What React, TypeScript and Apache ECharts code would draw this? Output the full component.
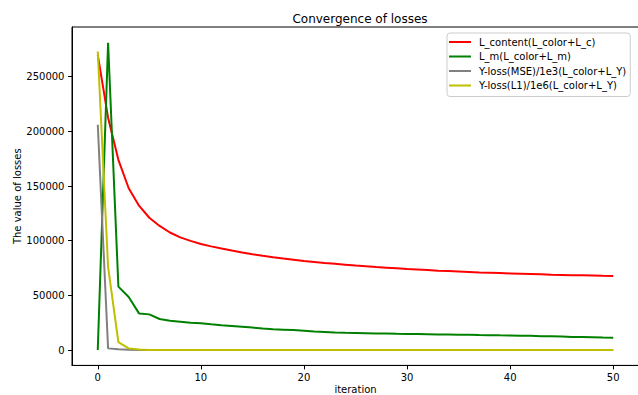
import React, { useEffect, useRef } from "react";
import * as echarts from "echarts";

const iterations: number[] = Array.from({ length: 51 }, (_, i) => i);

const contentLoss: number[] = [
  270000, 212500, 174000, 148000, 132000, 121000, 113500, 107500, 103000, 99800,
  97000, 94800, 92800, 91000, 89300, 87700, 86200, 84900, 83700, 82600,
  81500, 80600, 79700, 78900, 78100, 77300, 76600, 75900, 75300, 74700,
  74100, 73600, 73100, 72600, 72200, 71800, 71400, 71000, 70700, 70400,
  70100, 69800, 69500, 69200, 68900, 68700, 68500, 68300, 68100, 67900,
  67800,
];

const mLoss: number[] = [
  0, 281000, 58000, 48500, 33500, 32600, 28400, 26800, 25900, 25000,
  24400, 23500, 22700, 22000, 21300, 20500, 19600, 19000, 18600, 18200,
  17600, 16900, 16500, 16100, 15800, 15600, 15400, 15200, 15000, 14800,
  14700, 14600, 14500, 14300, 14200, 14000, 13900, 13700, 13600, 13400,
  13300, 13100, 13000, 12700, 12500, 12300, 12000, 11800, 11600, 11400,
  11300,
];

const yMseLoss: number[] = [
  206000, 1500, 600, 250, 120, 60, 30, 20, 10, 10,
  0, 0, 0, 0, 0, 0, 0, 0, 0, 0,
  0, 0, 0, 0, 0, 0, 0, 0, 0, 0,
  0, 0, 0, 0, 0, 0, 0, 0, 0, 0,
  0, 0, 0, 0, 0, 0, 0, 0, 0, 0,
  0,
];

const yL1Loss: number[] = [
  273000, 76000, 7300, 1500, 400, 120, 50, 20, 10, 10,
  0, 0, 0, 0, 0, 0, 0, 0, 0, 0,
  0, 0, 0, 0, 0, 0, 0, 0, 0, 0,
  0, 0, 0, 0, 0, 0, 0, 0, 0, 0,
  0, 0, 0, 0, 0, 0, 0, 0, 0, 0,
  0,
];

const seriesNames: string[] = [
  "L_content(L_color+L_c)",
  "L_m(L_color+L_m)",
  "Y-loss(MSE)/1e3(L_color+L_Y)",
  "Y-loss(L1)/1e6(L_color+L_Y)",
];
const seriesColors: string[] = ["#ff0000", "#008000", "#808080", "#bfbf00"];
const xTicks: number[] = [0, 10, 20, 30, 40, 50];
const yTicks: number[] = [0, 50000, 100000, 150000, 200000, 250000];

const FONT = "DejaVu Sans";

export default function App() {
  const ref = useRef<HTMLDivElement>(null);
  useEffect(() => {
    if (!ref.current) return;
    const chart = echarts.init(ref.current, null, { renderer: "svg" });
    const allData = [contentLoss, mLoss, yMseLoss, yL1Loss];
    chart.setOption({
      animation: false,
      backgroundColor: "#ffffff",
      textStyle: { fontFamily: FONT },
      title: {
        text: "Convergence of losses",
        left: 355,
        top: 8,
        textAlign: "center",
        textStyle: { fontFamily: FONT, fontSize: 12, fontWeight: "normal", color: "#000" },
      },
      legend: {
        orient: "vertical",
        left: 447,
        top: 33,
        padding: [3, 4, 5, 2],
        itemGap: 2.5,
        itemWidth: 22,
        itemHeight: 2,
        icon: "rect",
        backgroundColor: "#ffffff",
        borderColor: "#cccccc",
        borderWidth: 1,
        borderRadius: 3,
        data: seriesNames,
        textStyle: {
          fontFamily: FONT,
          fontSize: 10,
          color: "#000",
          lineHeight: 12,
          padding: [0, 0, 0, 3],
        },
      },
      grid: {
        left: 72,
        right: -1,
        top: 27,
        bottom: 29.6,
        show: true,
        borderColor: "#000",
        borderWidth: 1,
        containLabel: false,
        outerBoundsMode: "none",
      },
      xAxis: {
        type: "value",
        min: -2.5,
        max: 52.5,
        name: "iteration",
        nameLocation: "middle",
        nameGap: 19,
        nameMoveOverlap: false,
        nameTextStyle: { fontFamily: FONT, fontSize: 10, color: "#000" },
        axisLine: { show: true, onZero: false, lineStyle: { color: "#000", width: 1 } },
        axisTick: { show: true, length: 4, customValues: xTicks, lineStyle: { color: "#000" } },
        axisLabel: { customValues: xTicks, margin: 7, fontFamily: FONT, fontSize: 10, color: "#000" },
        splitLine: { show: false },
      },
      yAxis: {
        type: "value",
        min: -14070,
        max: 295470,
        name: "The value of losses",
        nameLocation: "middle",
        nameGap: 50,
        nameMoveOverlap: false,
        nameTextStyle: { fontFamily: FONT, fontSize: 10, color: "#000" },
        axisLine: { show: true, onZero: false, lineStyle: { color: "#000", width: 1 } },
        axisTick: { show: true, length: 4, customValues: yTicks, lineStyle: { color: "#000" } },
        axisLabel: {
          customValues: yTicks,
          margin: 7.5,
          fontFamily: FONT,
          fontSize: 10,
          color: "#000",
          formatter: (v: number) => String(v),
        },
        splitLine: { show: false },
      },
      series: seriesNames.map((name, k) => ({
        name,
        type: "line",
        showSymbol: false,
        symbol: "none",
        color: seriesColors[k],
        lineStyle: { color: seriesColors[k], width: 2 },
        data: iterations.map((it, i) => [it, allData[k][i]]),
        z: 2 + k,
      })),
    });
    return () => chart.dispose();
  }, []);
  return <div ref={ref} style={{ width: 638, height: 395, position: "absolute", left: 0, top: 0 }} />;
}
